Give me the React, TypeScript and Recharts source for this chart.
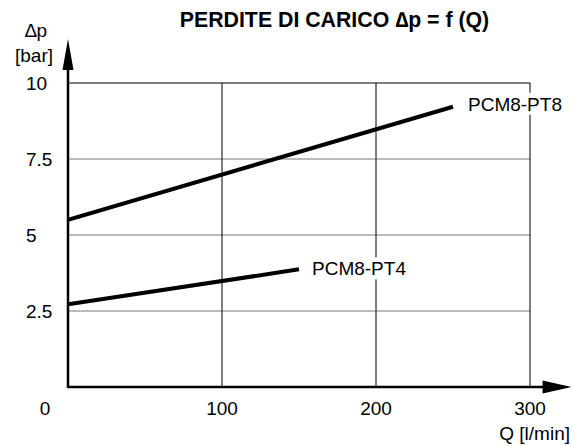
import React from "react";
import {
  LineChart,
  Line,
  XAxis,
  YAxis,
  CartesianGrid,
  ReferenceLine,
} from "recharts";

const xTicks = [0, 100, 200, 300];
const yTicks = [2.5, 5, 7.5, 10];
const seriesNames = ["PCM8-PT8", "PCM8-PT4"];
const pt8 = [
  { q: 0, p: 5.5 },
  { q: 250, p: 9.22 },
];
const pt4 = [
  { q: 0, p: 2.72 },
  { q: 150, p: 3.87 },
];

const FONT = '"Liberation Sans", Arial, sans-serif';
const FS = 19;

const XTick = (props: any) => {
  const { x, y, payload } = props;
  const dx = payload.value === 0 ? -23 : 0;
  return (
    <text x={x + dx} y={y} dy={20} textAnchor="middle" fontFamily={FONT} fontSize={FS} fill="#000">
      {payload.value}
    </text>
  );
};

const YTick = (props: any) => {
  const { y, payload } = props;
  return (
    <text x={26} y={y} dy={6.5} textAnchor="start" fontFamily={FONT} fontSize={FS} fill="#000">
      {payload.value}
    </text>
  );
};

const endLabel = (name: string, last: number, dx: number, dy: number) => (props: any) => {
  const { x, y, index } = props;
  if (index !== last) return null;
  const w = name.length * 12.4;
  return (
    <g>
      <rect x={x + dx - 2} y={y + dy - 11} width={w} height={22} fill="#fff" />
      <text x={x + dx} y={y + dy + 6.8} textAnchor="start" fontFamily={FONT} fontSize={FS} fill="#000">
        {name}
      </text>
    </g>
  );
};

const ArrowX = (props: any) => {
  const { x1, y1, x2, y2 } = props;
  return (
    <g>
      <line x1={x1} y1={y1} x2={x2 - 20} y2={y2} stroke="#000" strokeWidth={2.5} />
      <polygon points={`${x2},${y2} ${x2 - 29},${y2 - 6.5} ${x2 - 29},${y2 + 6.5}`} fill="#000" />
    </g>
  );
};

const ArrowY = (props: any) => {
  const { x1, y1, x2, y2 } = props;
  const top = Math.min(y1, y2);
  const bottom = Math.max(y1, y2);
  return (
    <g>
      <line x1={x1} y1={bottom + 1} x2={x2} y2={top + 20} stroke="#000" strokeWidth={2.5} />
      <polygon points={`${x1},${top} ${x1 - 5.5},${top + 31} ${x1 + 5.5},${top + 31}`} fill="#000" />
    </g>
  );
};

export default function App() {
  return (
    <div style={{ position: "absolute", left: 0, top: 0, width: 573, height: 446, background: "#fff" }}>
      <LineChart
        width={573}
        height={446}
        margin={{ top: 83, right: 43, bottom: 29, left: 0 }}
      >
        <CartesianGrid horizontal={true} vertical={false} horizontalValues={[2.5, 5, 7.5]} stroke="#777" strokeWidth={1} />
        <CartesianGrid horizontal={false} vertical={true} verticalValues={[100, 200, 300]} stroke="#000" strokeWidth={1} />
        <ReferenceLine y={10} stroke="#000" strokeWidth={1} />
        <XAxis
          type="number"
          dataKey="q"
          domain={[0, 300]}
          ticks={xTicks}
          axisLine={false}
          tickLine={false}
          height={30}
          tick={XTick}
          allowDataOverflow
        />
        <YAxis
          type="number"
          domain={[0, 10]}
          ticks={yTicks}
          axisLine={false}
          tickLine={false}
          width={68}
          tick={YTick}
          allowDataOverflow
        />
        <Line
          data={pt8}
          dataKey="p"
          stroke="#000"
          strokeWidth={4}
          dot={false}
          isAnimationActive={false}
          label={endLabel(seriesNames[0], pt8.length - 1, 15, -3)}
        />
        <Line
          data={pt4}
          dataKey="p"
          stroke="#000"
          strokeWidth={4}
          dot={false}
          isAnimationActive={false}
          label={endLabel(seriesNames[1], pt4.length - 1, 13, -1)}
        />
        <ReferenceLine
          segment={[{ x: 0, y: 0 }, { x: 327, y: 0 }]}
          ifOverflow="visible"
          shape={ArrowX}
        />
        <ReferenceLine
          segment={[{ x: 0, y: 0 }, { x: 0, y: 11.45 }]}
          ifOverflow="visible"
          shape={ArrowY}
        />
        <text x={334.5} y={27} textAnchor="middle" fontFamily={FONT} fontSize={21.3} fontWeight="bold" fill="#000">
          PERDITE DI CARICO ∆p = f (Q)
        </text>
        <text x={36} y={37} textAnchor="middle" fontFamily={FONT} fontSize={FS} fill="#000">
          ∆p
        </text>
        <text x={34} y={62} textAnchor="middle" fontFamily={FONT} fontSize={FS} fill="#000">
          [bar]
        </text>
        <text x={570} y={440} textAnchor="end" fontFamily={FONT} fontSize={FS} fill="#000">
          Q [l/min]
        </text>
      </LineChart>
    </div>
  );
}
